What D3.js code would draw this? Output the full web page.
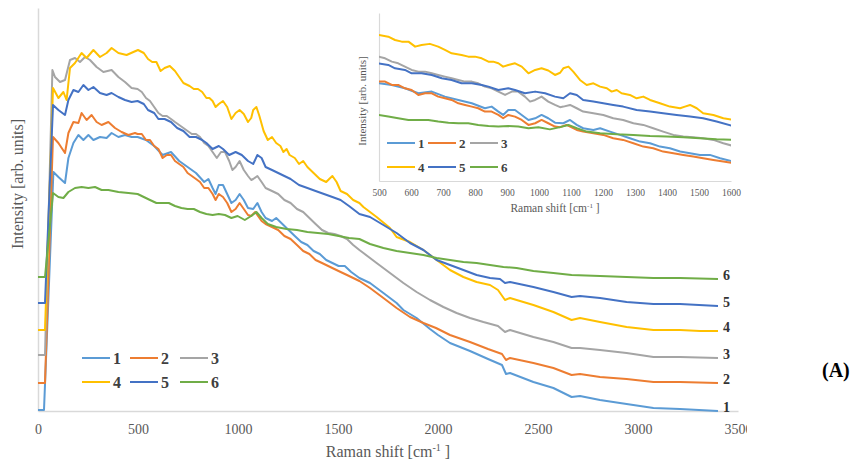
<!DOCTYPE html>
<html>
<head>
<meta charset="utf-8">
<script src="https://cdn.jsdelivr.net/npm/d3@7"></script>
<style>
  body { margin: 0; background: #fff; }
  svg text { font-family: "Liberation Serif", "Times New Roman", serif; }
</style>
</head>
<body>
<svg id="chart" width="861" height="465"></svg>
<script>
// Raman spectra, [shift cm-1, intensity arb. units]
const spectrum1 = [[0,1],[30,1],[77,239],[102,234],[135,228],[152,253],[177,268],[202,276],[227,271],[252,276],[277,271],[310,274],[343,273],[368,278],[402,274],[435,276],[468,274],
  [498,274],[540,271],[581,265],[623,256],[665,259],[706,250],[748,244],[790,238],[831,229],[852,232],[873,223],[888,217],[904,226],[925,226],[946,217],[967,208],[988,211],[1008,217],[1029,211],[1050,203],[1076,202],[1097,208],[1118,199],[1138,193],[1170,190],[1191,193],[1222,187],[1253,181],[1284,175],[1316,169],[1347,166],[1378,160],[1409,157],[1441,151],[1472,148],[1503,145],[1534,145],[1566,139],[1607,133],
  [1660,128],[1727,118],[1793,108],[1827,101],[1893,93],[1960,82],[2000,76],[2060,68],[2160,60],[2250,52],[2320,46],[2340,37],[2360,38],[2477,29],[2577,23],[2668,14],[2710,15],[2810,11],[2943,7],[3077,3],[3210,2],[3400,0]];

const spectrum2 = [[0,28],[35,28],[75,274],[102,268],[135,258],[152,278],[177,289],[202,288],[218,298],[243,291],[268,296],[293,289],[318,286],[352,289],[385,283],[418,279],[452,276],[485,278],
  [498,277],[519,277],[540,271],[560,271],[581,265],[602,262],[623,253],[644,256],[665,256],[685,250],[706,247],[727,244],[748,238],[769,235],[790,232],[810,229],[831,223],[852,223],[873,217],[888,211],[904,217],[925,214],[946,208],[967,199],[988,202],[1008,208],[1029,202],[1050,196],[1066,195],[1086,199],[1118,190],[1138,187],[1170,184],[1201,181],[1232,175],[1263,172],[1295,166],[1326,160],[1357,157],[1388,151],[1420,148],[1451,145],[1482,142],[1513,139],[1545,136],[1576,133],[1607,130],
  [1660,123],[1727,113],[1793,103],[1860,94],[1927,88],[1990,83],[2060,76],[2160,69],[2250,62],[2320,57],[2340,51],[2360,53],[2477,48],[2577,43],[2668,36],[2710,37],[2810,34],[2943,32],[3077,29],[3210,29],[3400,28]];

const spectrum3 = [[0,56],[35,56],[72,341],[85,334],[110,329],[135,331],[160,351],[185,353],[210,349],[235,354],[260,351],[293,344],[327,339],[368,341],[402,334],[435,329],[468,323],
  [498,322],[519,319],[540,313],[560,310],[581,304],[602,298],[623,295],[644,295],[665,292],[685,289],[706,286],[727,283],[748,280],[769,277],[790,277],[810,274],[831,268],[852,265],[873,259],[894,253],[915,259],[935,259],[956,250],[972,241],[988,244],[1008,250],[1029,241],[1050,235],[1066,231],[1076,232],[1097,235],[1118,229],[1138,223],[1170,220],[1201,217],[1232,211],[1263,208],[1295,202],[1326,199],[1357,193],[1388,187],[1420,181],[1451,178],[1482,177],[1513,175],[1545,172],[1576,166],[1607,161],
  [1627,158],[1693,148],[1760,138],[1827,128],[1893,119],[1960,111],[2027,104],[2093,98],[2160,93],[2227,89],[2300,85],[2335,79],[2360,81],[2477,74],[2577,69],[2668,63],[2710,63],[2810,61],[2943,58],[3077,54],[3210,54],[3400,53]];

const spectrum4 = [[0,81],[35,81],[75,323],[102,313],[127,319],[143,311],[160,343],[185,348],[218,358],[243,353],[277,361],[310,354],[343,358],[368,363],[402,358],[443,356],[477,359],
  [500,361],[529,358],[550,352],[571,349],[592,349],[613,340],[633,343],[659,345],[685,340],[706,334],[727,328],[758,325],[779,322],[800,322],[821,319],[842,313],[857,313],[873,310],[888,304],[904,307],[925,310],[946,304],[967,292],[988,298],[1008,301],[1029,297],[1050,289],[1066,293],[1076,301],[1092,304],[1107,295],[1128,280],[1149,271],[1170,274],[1191,268],[1212,265],[1227,259],[1243,262],[1258,256],[1284,253],[1305,247],[1326,250],[1347,244],[1378,238],[1409,232],[1441,229],[1456,232],[1472,235],[1493,229],[1513,220],[1545,217],[1576,211],[1607,208],
  [1627,204],[1693,194],[1760,183],[1793,174],[1860,169],[1927,161],[1993,151],[2060,141],[2127,134],[2193,129],[2260,126],[2300,121],[2335,111],[2360,113],[2477,106],[2577,99],[2668,91],[2710,93],[2810,89],[2943,84],[3077,81],[3210,81],[3310,80],[3400,80]];

const spectrum5 = [[0,108],[35,108],[75,306],[102,301],[135,296],[152,311],[177,321],[202,319],[227,326],[252,321],[277,324],[310,318],[343,316],[368,318],[402,314],[435,311],[468,309],
  [498,310],[529,307],[550,301],[581,298],[602,292],[633,292],[665,289],[696,283],[727,280],[758,274],[790,274],[821,271],[842,268],[873,262],[904,265],[925,262],[956,256],[988,259],[1019,256],[1050,250],[1076,247],[1097,256],[1118,253],[1138,244],[1170,241],[1201,238],[1232,235],[1263,232],[1305,226],[1347,223],[1388,220],[1430,217],[1472,214],[1513,211],[1555,205],[1607,197],
  [1660,194],[1727,186],[1793,178],[1860,168],[1927,161],[1993,151],[2060,146],[2127,141],[2193,136],[2260,133],[2310,132],[2335,128],[2360,129],[2477,124],[2577,119],[2668,114],[2710,115],[2810,113],[2943,109],[3077,107],[3210,107],[3400,105]];

const spectrum6 = [[0,134],[35,134],[75,218],[102,214],[127,213],[152,219],[185,223],[218,224],[252,223],[285,224],[318,221],[352,221],[402,219],[452,218],
  [498,217],[529,214],[560,211],[592,208],[623,208],[654,208],[685,205],[717,203],[748,202],[779,202],[810,199],[842,197],[873,196],[904,197],[935,196],[967,193],[998,195],[1034,191],[1066,195],[1092,199],[1118,193],[1149,187],[1191,184],[1243,182],[1295,181],[1347,179],[1399,178],[1451,177],[1503,175],[1555,173],[1607,172],
  [1660,167],[1727,163],[1793,160],[1860,158],[1927,156],[1993,153],[2060,151],[2127,149],[2193,148],[2260,146],[2327,144],[2393,143],[2477,140],[2577,138],[2668,136],[2810,135],[2943,134],[3077,133],[3210,133],[3400,132]];

const seriesNames = ["1", "2", "3", "4", "5", "6"];
const seriesColors = ["#5B9BD5", "#ED7D31", "#A5A5A5", "#FFC000", "#4472C4", "#70AD47"];
const mainTicks = [0, 500, 1000, 1500, 2000, 2500, 3000, 3500];
const insetTicks = [500, 600, 700, 800, 900, 1000, 1100, 1200, 1300, 1400, 1500, 1600];

const spectra = [spectrum1, spectrum2, spectrum3, spectrum4, spectrum5, spectrum6];

const svg = d3.select("#chart");
const axisColor = "#d9d9d9", textColor = "#595959";
const serif = "Liberation Serif";

// clip the whole figure on the right like the original crop
svg.append("clipPath").attr("id", "figclip")
  .append("rect").attr("x", 0).attr("y", 0).attr("width", 747).attr("height", 465);
const fig = svg.append("g").attr("clip-path", "url(#figclip)");

// main chart
const x = d3.scaleLinear().domain([0, 3500]).range([38, 738]);
const y = d3.scaleLinear().domain([0, 403]).range([411, 8]);

fig.append("g")
  .attr("transform", `translate(0,${y(0)})`)
  .call(d3.axisBottom(x).tickValues(mainTicks).tickFormat(d3.format("d")).tickSize(0).tickPadding(13))
  .attr("font-family", serif).attr("font-size", 14)
  .call(g => g.select(".domain").attr("stroke", axisColor).attr("stroke-width", 1.5))
  .call(g => g.selectAll("text").attr("fill", textColor));

fig.append("g")
  .attr("transform", `translate(${x(0)},0)`)
  .call(d3.axisLeft(y).tickValues([]).tickSize(0))
  .call(g => g.select(".domain").attr("stroke", axisColor).attr("stroke-width", 1.5));

const line = d3.line().x(d => x(d[0])).y(d => y(d[1]));
fig.selectAll(".spec")
  .data(spectra)
  .join("path")
    .attr("class", "spec")
    .attr("fill", "none")
    .attr("stroke", (d, i) => seriesColors[i])
    .attr("stroke-width", 2)
    .attr("stroke-linejoin", "round")
    .attr("d", line);

// labels at the end of each spectrum
fig.selectAll(".endlabel")
  .data(spectra)
  .join("text")
    .attr("class", "endlabel")
    .attr("x", d => x(d[d.length - 1][0]) + 5)
    .attr("y", d => y(d[d.length - 1][1]) - 4)
    .attr("dy", "0.35em")
    .attr("fill", "#333")
    .style("font-size", "14px")
    .style("font-weight", "bold")
    .text((d, i) => seriesNames[i]);

// axis titles
const xTitle = fig.append("text")
  .attr("x", 388).attr("y", 457)
  .attr("text-anchor", "middle")
  .attr("fill", textColor)
  .style("font-size", "16px");
xTitle.append("tspan").text("Raman shift [cm");
xTitle.append("tspan").attr("dy", -6).style("font-size", "10px").text("-1");
xTitle.append("tspan").attr("dy", 6).text(" ]");

fig.append("text")
  .attr("transform", "translate(23,184) rotate(-90)")
  .attr("text-anchor", "middle")
  .attr("fill", textColor)
  .style("font-size", "16px")
  .text("Intensity [arb. units]");

// main legend
const legendCols = [82, 130, 180], legendRows = [358, 382];
seriesNames.forEach((name, i) => {
  const lx = legendCols[i % 3], ly = legendRows[Math.floor(i / 3)];
  fig.append("line")
    .attr("x1", lx).attr("x2", lx + 28).attr("y1", ly).attr("y2", ly)
    .attr("stroke", seriesColors[i]).attr("stroke-width", 2);
  fig.append("text")
    .attr("x", lx + 31).attr("y", ly).attr("dy", "0.35em")
    .attr("fill", "#404040")
    .style("font-size", "16px").style("font-weight", "bold")
    .text(name);
});

// inset chart, same spectra zoomed to 500-1600 cm-1
const xi = d3.scaleLinear().domain([500, 1600]).range([379, 731]);
const yi = d3.scaleLinear().domain([98, 400.6]).range([181, 13]);

const inset = fig.append("g");

inset.append("clipPath").attr("id", "insetclip")
  .append("rect").attr("x", xi(500)).attr("y", yi(400.6))
  .attr("width", xi(1600) - xi(500)).attr("height", yi(98) - yi(400.6));

inset.append("g")
  .attr("transform", `translate(0,${yi(98)})`)
  .call(d3.axisBottom(xi).tickValues(insetTicks).tickFormat(d3.format("d")).tickSize(0).tickPadding(8))
  .attr("font-family", serif).attr("font-size", 9.5)
  .call(g => g.select(".domain").attr("stroke", axisColor).attr("stroke-width", 1.2))
  .call(g => g.selectAll("text").attr("fill", textColor));

inset.append("g")
  .attr("transform", `translate(${xi(500)},0)`)
  .call(d3.axisLeft(yi).tickValues([]).tickSize(0))
  .call(g => g.select(".domain").attr("stroke", axisColor).attr("stroke-width", 1.2));

const lineI = d3.line().x(d => xi(d[0])).y(d => yi(d[1]));
inset.append("g").attr("clip-path", "url(#insetclip)")
  .selectAll("path")
  .data(spectra)
  .join("path")
    .attr("fill", "none")
    .attr("stroke", (d, i) => seriesColors[i])
    .attr("stroke-width", 2)
    .attr("stroke-linejoin", "round")
    .attr("d", lineI);

const xiTitle = inset.append("text")
  .attr("x", 555).attr("y", 212)
  .attr("text-anchor", "middle")
  .attr("fill", textColor)
  .style("font-size", "11.5px");
xiTitle.append("tspan").text("Raman shift [cm");
xiTitle.append("tspan").attr("dy", -4).style("font-size", "7px").text("-1");
xiTitle.append("tspan").attr("dy", 4).text(" ]");

inset.append("text")
  .attr("transform", "translate(366,101) rotate(-90)")
  .attr("text-anchor", "middle")
  .attr("fill", textColor)
  .style("font-size", "11px")
  .text("Intensity [arb. units]");

const iCols = [387, 428, 470], iRows = [143, 167];
seriesNames.forEach((name, i) => {
  const lx = iCols[i % 3], ly = iRows[Math.floor(i / 3)];
  inset.append("line")
    .attr("x1", lx).attr("x2", lx + 28).attr("y1", ly).attr("y2", ly)
    .attr("stroke", seriesColors[i]).attr("stroke-width", 2);
  inset.append("text")
    .attr("x", lx + 31).attr("y", ly).attr("dy", "0.35em")
    .attr("fill", "#404040")
    .style("font-size", "13px").style("font-weight", "bold")
    .text(name);
});

// panel letter
svg.append("text")
  .attr("x", 822).attr("y", 370).attr("dy", "0.35em")
  .attr("fill", "#000")
  .style("font-size", "20px").style("font-weight", "bold")
  .text("(A)");
</script>
</body>
</html>
